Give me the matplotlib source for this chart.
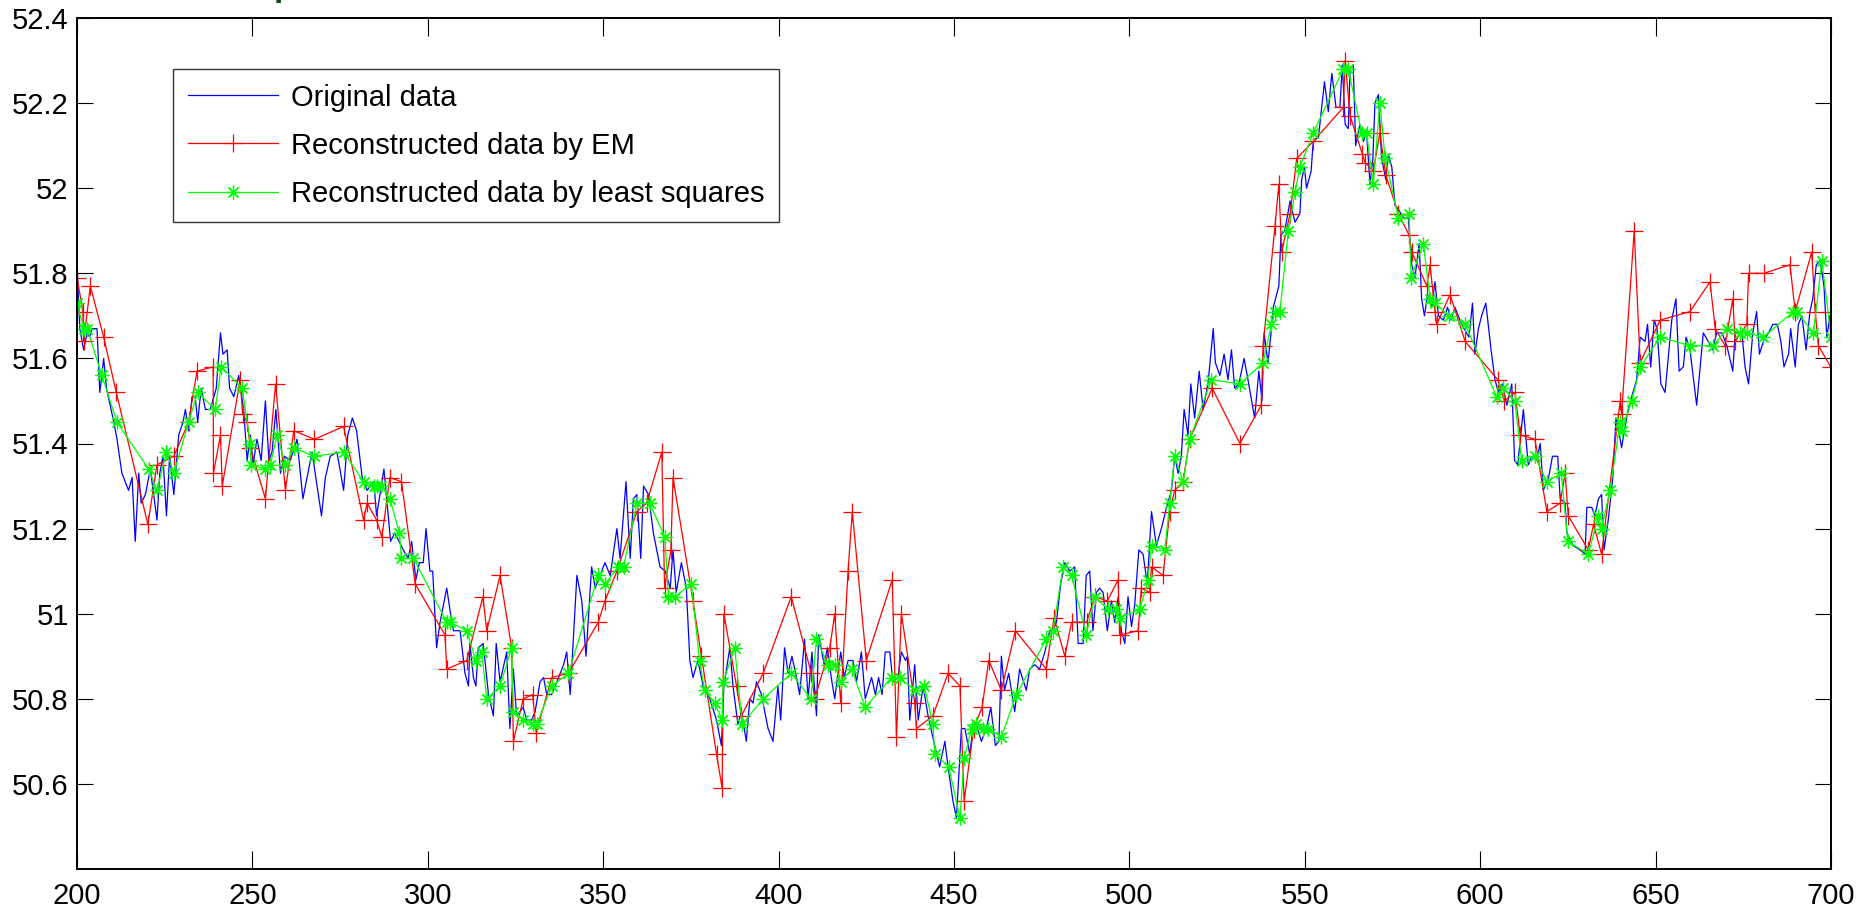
import matplotlib
matplotlib.use("Agg")
import matplotlib.pyplot as plt

plt.rcParams['font.family'] = ['Liberation Sans', 'DejaVu Sans']

# Original series (peaks and troughs of the measured signal)
orig_x = [200.0, 200.8, 201.9, 202.9, 203.6, 204.3, 205.7, 206.5, 207.6, 208.4, 210.5, 211.4, 212.8, 214.7, 215.7,
          216.6, 217.6, 218.3, 219.5, 220.9, 222.8, 223.6, 224.5, 225.5, 226.4, 227.6, 229.0, 230.2, 230.9, 231.8,
          232.8, 233.7, 234.4, 235.4, 236.6, 238.0, 239.7, 240.9, 241.6, 242.8, 243.5, 244.7, 246.1, 247.5, 248.5,
          249.4, 250.2, 251.3, 252.5, 253.7, 254.7, 255.6, 256.7, 258.0, 259.1, 260.8, 262.7, 264.4, 267.0, 269.7,
          270.8, 272.2, 274.1, 276.0, 277.2, 278.5, 279.7, 281.3, 282.7, 284.6,
          285.4, 287.5, 288.4, 289.4, 290.6, 293.0, 294.4, 295.4, 296.6, 297.6, 298.7, 299.5, 300.6, 301.4, 302.5,
          303.5, 305.4, 306.3, 307.3, 309.2, 310.6, 311.6, 312.0, 313.0, 313.7, 314.4, 315.8, 317.3, 318.7, 319.5,
          320.6, 322.5, 323.4, 324.4, 325.3, 327.2, 328.2, 329.6, 330.6, 332.0, 333.0, 333.9, 335.3, 336.8, 338.7,
          339.6, 340.6, 342.5, 343.9, 345.1, 346.7, 347.7, 349.1, 350.5, 352.0, 353.9, 354.8, 356.5, 357.7, 358.6,
          359.6, 360.7, 361.5, 362.9, 364.3, 366.2, 367.7, 369.1,
          369.9, 370.8, 372.3, 373.7, 374.7, 375.6, 377.0, 378.5, 380.4, 382.3, 383.7, 384.4, 386.1, 387.0, 388.4,
          389.4, 390.8, 391.8, 392.7, 393.7, 395.1, 397.0, 398.4, 399.8, 400.6, 401.7, 402.7, 403.8, 405.1, 406.0,
          407.4, 408.4, 409.5, 410.8, 411.4, 413.0, 413.9, 415.0, 416.0, 417.7, 418.7, 419.8, 421.2, 422.2, 423.6,
          424.7, 426.5, 427.6, 428.5, 429.5, 430.4, 431.7, 432.6, 434.0, 435.0, 436.2, 436.7, 437.4, 438.8, 439.8,
          441.2, 442.6, 444.5, 445.9, 447.4, 448.3, 449.7, 450.7, 452.1, 453.1, 454.5,
          455.4, 456.4, 457.8, 459.2, 460.5, 461.8, 462.8, 463.5, 464.4, 465.6, 467.3, 468.7, 470.6, 471.6, 473.0,
          474.4, 475.9, 477.3, 478.2, 479.2, 480.4, 481.6, 483.0, 484.4, 485.4, 486.8, 487.7, 488.7, 489.6, 490.6,
          491.5, 492.5, 493.7, 494.9, 495.8, 496.8, 497.7, 498.7, 499.6, 500.6, 501.5, 502.7, 503.9, 505.1, 506.3,
          507.7, 509.1, 510.6, 512.0, 512.9, 513.9, 514.8, 515.6, 516.7, 517.5, 518.6, 519.9, 521.0, 522.4, 523.9,
          524.5, 525.8, 527.0, 528.1, 529.1, 530.0, 531.2, 532.7, 533.8, 535.7, 536.9, 537.8, 538.4, 539.5, 540.5,
          541.0, 542.6, 543.2, 544.3, 545.8, 547.2, 548.6, 549.1, 549.9, 550.5, 551.8, 552.4, 553.9, 555.6, 556.7,
          557.7, 558.9, 560.0, 560.7, 561.5, 562.4, 562.9, 563.8, 564.5, 565.7, 566.7, 567.6, 568.6, 569.4, 570.0,
          571.0, 571.9, 573.1, 573.8, 574.8, 575.7, 576.7, 578.1, 579.5, 580.5, 581.4, 582.6, 583.3, 584.1, 585.0,
          586.2, 587.1, 588.1, 589.5, 590.7, 591.7, 592.8, 594.7, 596.8, 597.8, 598.5, 599.5, 600.4, 601.6, 603.1,
          604.2, 605.2, 606.3, 607.6, 609.0, 609.8, 610.7, 612.3, 613.7, 614.7, 616.1, 617.1, 618.0, 619.5, 620.6,
          622.1, 622.8, 624.2,
          624.7, 626.5, 628.5, 629.9, 630.4, 631.8, 632.7, 633.7, 634.6, 635.3, 636.5, 637.8, 638.7, 639.7, 640.3,
          641.3, 642.2, 643.2, 644.6, 645.6, 647.0, 647.7, 648.6, 649.6, 650.4, 651.5, 652.7, 653.6, 654.6, 655.8,
          656.7, 657.9, 658.7, 659.8, 661.7, 663.6, 665.0, 666.3, 667.4, 668.9, 670.3, 672.0, 672.7, 673.6, 674.6,
          675.5, 676.5, 677.7, 678.8, 679.6, 680.7, 682.2, 683.4, 684.7, 685.7, 686.6, 687.9, 688.5, 689.8, 690.7,
          691.7, 692.9, 694.0, 694.8, 695.8, 696.9, 698.0, 698.8, 699.7, 700.0]
orig_y = [51.82, 51.67, 51.62, 51.66, 51.65, 51.67, 51.67, 51.52, 51.60, 51.53, 51.45, 51.41, 51.33, 51.29, 51.32,
          51.17, 51.33, 51.26, 51.28, 51.34, 51.22, 51.33, 51.37, 51.23, 51.37, 51.28, 51.42, 51.45, 51.48, 51.43,
          51.51, 51.51, 51.45, 51.53, 51.48, 51.48, 51.53, 51.66, 51.61, 51.62, 51.53, 51.51, 51.56, 51.48, 51.36,
          51.42, 51.35, 51.41, 51.36, 51.50, 51.36, 51.38, 51.48, 51.33, 51.37, 51.36, 51.41, 51.27, 51.38, 51.23,
          51.32, 51.37, 51.38, 51.29, 51.42, 51.46, 51.43, 51.32, 51.29, 51.31,
          51.23, 51.34, 51.26, 51.17, 51.19, 51.15, 51.13, 51.17, 51.08, 51.12, 51.12, 51.20, 51.10, 51.10, 50.92,
          50.98, 51.06, 51.01, 50.96, 50.96, 50.86, 50.83, 50.93, 50.85, 50.83, 50.92, 50.93, 50.81, 50.76, 50.93,
          50.84, 50.91, 50.73, 50.87, 50.76, 50.78, 50.75, 50.75, 50.77, 50.84, 50.85, 50.81, 50.81, 50.84, 50.88,
          50.91, 50.81, 51.09, 51.03, 50.90, 51.11, 51.06, 51.09, 51.12, 51.09, 51.20, 51.13, 51.31, 51.13, 51.27,
          51.28, 51.13, 51.30, 51.28, 51.19, 51.11, 51.10, 51.06,
          51.15, 51.05, 51.12, 51.06, 50.89, 50.85, 50.89, 50.83, 50.80, 50.75, 50.69, 50.83, 50.92, 50.83, 50.74,
          50.77, 50.70, 50.80, 50.79, 50.84, 50.81, 50.73, 50.70, 50.83, 50.75, 50.92, 50.86, 50.90, 50.85, 50.81,
          50.94, 50.80, 50.91, 50.76, 50.95, 50.88, 50.92, 50.85, 50.80, 50.91, 50.85, 50.89, 50.89, 50.84, 50.91,
          50.80, 50.85, 50.81, 50.85, 50.81, 50.91, 50.91, 50.84, 50.85, 50.91, 50.89, 50.90, 50.75, 50.88, 50.75,
          50.83, 50.76, 50.69, 50.64, 50.70, 50.64, 50.56, 50.52, 50.73, 50.73, 50.67,
          50.73, 50.74, 50.70, 50.73, 50.78, 50.69, 50.70, 50.90, 50.82, 50.86, 50.77, 50.87, 50.82, 50.87, 50.88,
          50.87, 50.91, 50.96, 50.96, 50.98, 51.07, 51.12, 51.10, 51.11, 50.93, 50.93, 51.09, 51.10, 50.96, 51.05,
          51.06, 51.05, 50.96, 51.03, 50.98, 51.04, 50.96, 50.93, 51.04, 50.97, 51.02, 51.15, 51.14, 51.07, 51.24,
          51.16, 51.20, 51.25, 51.29, 51.37, 51.33, 51.37, 51.48, 51.42, 51.54, 51.46, 51.57, 51.48, 51.54, 51.67,
          51.59, 51.56, 51.61, 51.55, 51.62, 51.53, 51.54, 51.60, 51.55, 51.46, 51.57, 51.50, 51.66, 51.59, 51.67,
          51.72, 51.77, 51.89, 51.90, 51.97, 51.92, 51.94, 52.02, 52.05, 52.00, 52.04, 52.11, 52.12, 52.25, 52.18,
          52.27, 52.19, 52.19, 52.29, 52.15, 52.14, 52.28, 52.29, 52.10, 52.15, 52.11, 52.13, 52.01, 52.07, 52.20,
          52.22, 52.07, 52.02, 52.08, 52.05, 51.96, 51.95, 51.93, 51.93, 51.82, 51.79, 51.87, 51.74, 51.70, 51.75,
          51.72, 51.78, 51.70, 51.69, 51.72, 51.69, 51.72, 51.68, 51.65, 51.73, 51.61, 51.67, 51.70, 51.73, 51.62,
          51.55, 51.52, 51.54, 51.49, 51.54, 51.36, 51.35, 51.48, 51.35, 51.37, 51.36, 51.40, 51.29, 51.32, 51.37,
          51.37, 51.27, 51.26,
          51.19, 51.16, 51.15, 51.14, 51.25, 51.25, 51.23, 51.27, 51.28, 51.15, 51.22, 51.32, 51.46, 51.42, 51.39,
          51.44, 51.48, 51.51, 51.55, 51.65, 51.64, 51.68, 51.58, 51.69, 51.67, 51.54, 51.52, 51.60, 51.69, 51.74,
          51.57, 51.58, 51.65, 51.62, 51.49, 51.66, 51.64, 51.62, 51.66, 51.66, 51.63, 51.57, 51.66, 51.66, 51.66,
          51.58, 51.54, 51.66, 51.71, 51.61, 51.64, 51.66, 51.68, 51.68, 51.64, 51.58, 51.61, 51.67, 51.58, 51.68,
          51.70, 51.62, 51.71, 51.74, 51.82, 51.83, 51.77, 51.65, 51.70, 51.68]

# EM reconstruction
em_x = [200.0, 201.7, 201.9, 203.8, 207.6, 211.2, 220.2, 222.8, 227.6, 231.8, 234.2, 238.8, 238.9, 240.9, 241.4,
        246.5, 247.2, 248.5, 249.4, 253.7, 256.6, 259.4, 261.8, 267.7, 276.0, 281.7, 282.7,
        285.4, 286.9, 289.2, 292.5, 296.4, 304.9, 305.4, 311.1, 315.7, 316.8, 320.6, 323.9, 324.4, 327.2, 329.9,
        330.9, 335.3, 340.1, 348.6, 350.5, 353.9, 359.6, 362.4, 366.7, 367.5, 369.3, 369.9,
        375.6, 378.0, 382.3, 383.9, 384.4, 388.0, 389.4, 395.6, 403.6, 409.3, 410.3, 414.6, 416.0, 417.7, 419.8,
        421.0, 425.0, 432.4, 433.6, 435.0, 438.8, 439.3, 444.0, 448.3, 451.7, 452.9,
        455.6, 458.0, 459.9, 463.5, 467.5, 476.3, 478.5, 481.6, 483.5, 487.8, 490.1, 493.7, 496.8, 497.2, 502.5,
        503.4, 505.8, 506.3, 509.6, 511.5, 512.9, 515.3, 517.2, 523.6, 531.5, 537.6, 538.1,
        541.5, 542.6, 543.4, 545.8, 547.7, 552.4, 561.0, 561.5, 562.9, 566.4, 567.2, 569.5, 571.4, 573.1, 576.7,
        579.7, 580.5, 584.8, 585.7, 587.1, 587.6, 591.4, 595.7, 605.0, 606.9, 609.9, 611.4, 615.6, 619.0, 622.8,
        624.2, 625.1, 630.8, 632.3, 634.6, 639.9, 640.3, 643.9, 645.6, 651.3, 659.8, 665.5, 667.0, 669.8, 672.0,
        672.7, 676.0, 676.5, 680.9, 688.3, 689.8, 694.5, 695.5, 696.4, 699.9, 700.0]
em_y = [51.79, 51.71, 51.64, 51.77, 51.65, 51.52, 51.21, 51.35, 51.37, 51.45, 51.57, 51.58, 51.33, 51.42, 51.30,
        51.55, 51.47, 51.45, 51.39, 51.27, 51.54, 51.29, 51.43, 51.41, 51.44, 51.22, 51.26,
        51.22, 51.18, 51.32, 51.31, 51.07, 50.95, 50.87, 50.89, 51.04, 50.96, 51.09, 50.92, 50.70, 50.80, 50.81,
        50.72, 50.85, 50.86, 50.98, 51.03, 51.10, 51.24, 51.26, 51.38, 51.06, 51.15, 51.32,
        51.03, 50.90, 50.67, 50.59, 51.00, 50.83, 50.76, 50.86, 51.04, 50.86, 50.80, 50.92, 51.00, 50.79, 51.10,
        51.24, 50.89, 51.08, 50.71, 51.00, 50.79, 50.73, 50.76, 50.86, 50.83, 50.56,
        50.73, 50.78, 50.89, 50.82, 50.96, 50.87, 50.99, 50.90, 50.98, 50.98, 51.04, 51.03, 51.08, 50.95, 50.96,
        51.06, 51.05, 51.11, 51.09, 51.24, 51.29, 51.31, 51.41, 51.53, 51.40, 51.49, 51.63,
        51.91, 52.01, 51.85, 51.94, 52.07, 52.11, 52.19, 52.30, 52.17, 52.08, 52.06, 52.04, 52.13, 52.03, 51.94,
        51.89, 51.85, 51.77, 51.82, 51.71, 51.68, 51.75, 51.64, 51.55, 51.50, 51.52, 51.42, 51.41, 51.24, 51.26,
        51.33, 51.23, 51.15, 51.21, 51.14, 51.50, 51.47, 51.90, 51.59, 51.69, 51.71, 51.78, 51.67, 51.63, 51.74,
        51.64, 51.68, 51.80, 51.80, 51.82, 51.71, 51.85, 51.71, 51.63, 51.58, 51.71]

# Least-squares reconstruction
ls_x = [200.0, 201.9, 202.9, 207.1, 211.4, 220.4, 222.8, 225.5, 227.6, 231.8, 234.4, 239.4, 241.1, 247.1, 249.4,
        249.6, 253.7, 255.1, 257.0, 259.4, 261.8, 267.5, 276.0, 281.7, 284.6,
        285.4, 286.8, 289.2, 291.9, 292.5, 295.9, 305.4, 306.3, 311.1, 313.7, 315.4, 316.8, 320.6, 323.9, 324.4,
        327.2, 330.1, 331.1, 335.3, 340.1, 348.6, 350.5, 354.3, 355.8, 359.6, 363.2, 367.6, 368.6,
        370.4, 375.1, 377.5, 378.9, 381.8, 383.9, 384.2, 387.5, 389.6, 395.6, 403.6, 409.2, 410.8, 414.1, 416.0,
        417.7, 420.8, 424.7, 432.2, 434.5, 438.8, 441.5, 444.0, 444.5, 448.5, 451.7, 452.9, 455.0,
        456.4, 458.3, 459.7, 463.5, 467.8, 476.3, 478.2, 481.1, 483.5, 487.7, 490.1, 493.9, 496.3, 497.2, 503.0,
        505.3, 506.3, 510.1, 511.5, 512.9, 515.3, 517.2, 523.4, 531.5, 538.1, 540.5,
        541.5, 542.9, 545.3, 547.2, 548.6, 552.4, 561.0, 562.4, 566.2, 567.6, 569.5, 571.4, 572.9, 576.7, 579.7,
        580.3, 583.8, 585.7, 587.1, 591.0, 595.7, 604.7, 606.6, 609.9, 611.8, 615.6, 619.0, 623.1, 625.0,
        630.8, 633.7, 634.6, 637.0, 639.9, 640.3, 643.2, 645.6, 651.3, 659.8, 666.5, 670.3, 674.1, 676.0, 680.7,
        689.3, 690.2, 695.0, 697.4, 700.0]
ls_y = [51.73, 51.67, 51.67, 51.56, 51.45, 51.34, 51.29, 51.38, 51.33, 51.45, 51.52, 51.48, 51.58, 51.53, 51.40,
        51.35, 51.34, 51.35, 51.42, 51.35, 51.39, 51.37, 51.38, 51.31, 51.30,
        51.30, 51.30, 51.27, 51.19, 51.13, 51.13, 50.98, 50.98, 50.96, 50.89, 50.91, 50.80, 50.83, 50.92, 50.77,
        50.75, 50.74, 50.74, 50.83, 50.86, 51.09, 51.07, 51.11, 51.11, 51.26, 51.26, 51.18, 51.04,
        51.04, 51.07, 50.89, 50.82, 50.79, 50.75, 50.84, 50.92, 50.74, 50.80, 50.86, 50.80, 50.94, 50.88, 50.88,
        50.84, 50.87, 50.78, 50.85, 50.85, 50.82, 50.83, 50.74, 50.67, 50.64, 50.52, 50.66, 50.73,
        50.74, 50.73, 50.73, 50.71, 50.81, 50.94, 50.96, 51.11, 51.09, 50.95, 51.04, 51.01, 51.01, 50.99, 51.01,
        51.08, 51.16, 51.15, 51.26, 51.37, 51.31, 51.41, 51.55, 51.54, 51.59, 51.68,
        51.71, 51.71, 51.90, 51.99, 52.05, 52.13, 52.28, 52.28, 52.13, 52.13, 52.01, 52.20, 52.07, 51.93, 51.94,
        51.79, 51.87, 51.74, 51.73, 51.70, 51.68, 51.51, 51.53, 51.50, 51.36, 51.37, 51.31, 51.33, 51.17,
        51.14, 51.23, 51.20, 51.29, 51.45, 51.43, 51.50, 51.58, 51.65, 51.63, 51.63, 51.67, 51.66, 51.66, 51.65,
        51.71, 51.71, 51.66, 51.83, 51.65]

x_ticks = [200, 250, 300, 350, 400, 450, 500, 550, 600, 650, 700]
y_ticks = [50.6, 50.8, 51.0, 51.2, 51.4, 51.6, 51.8, 52.0, 52.2, 52.4]
y_tick_labels = ['50.6', '50.8', '51', '51.2', '51.4', '51.6', '51.8', '52', '52.2', '52.4']

W, H = 1862, 918
fig = plt.figure(figsize=(W / 100, H / 100), dpi=100)
ax = fig.add_axes([77 / W, 49 / H, 1754 / W, 851 / H])

ax.plot(orig_x, orig_y, color='#0000ff', lw=0.9, label='Original data')
ax.plot(em_x, em_y, color='#ff0000', lw=0.9, marker='+', markersize=13, markeredgewidth=0.9,
        label='Reconstructed data by EM')
ax.plot(ls_x, ls_y, color='#00ff00', lw=0.9, marker=(8, 2, 0), markersize=10, markeredgewidth=0.9,
        label='Reconstructed data by least squares')

ax.set_xlim(200, 700)
ax.set_ylim(50.4, 52.4)
ax.set_xticks(x_ticks)
ax.set_yticks(y_ticks)
ax.set_yticklabels(y_tick_labels)
ax.tick_params(axis='both', which='major', direction='in', top=True, right=True,
               labelsize=21, width=0.8, color='black')
ax.tick_params(axis='x', length=13, pad=9)
ax.tick_params(axis='y', length=11.5, pad=6)
for s in ax.spines.values():
    s.set_linewidth(1.4)
    s.set_color('black')

leg = ax.legend(loc='upper left', bbox_to_anchor=((173 - 77) / 1754, 1 - (69 - 18) / 851),
                borderaxespad=0, fontsize=21, frameon=True, fancybox=False, numpoints=1,
                handlelength=3.1, handletextpad=0.45, labelspacing=0.69, borderpad=0.5)
leg.get_frame().set_edgecolor('black')
leg.get_frame().set_linewidth(1.0)

# clipped title letter at the top edge
fig.text(274 / W, 1 + 4 / H, 'p', color='#0b4a0b', fontsize=24, fontweight='bold',
         ha='left', va='baseline')

fig.savefig('out.png', dpi=100)
